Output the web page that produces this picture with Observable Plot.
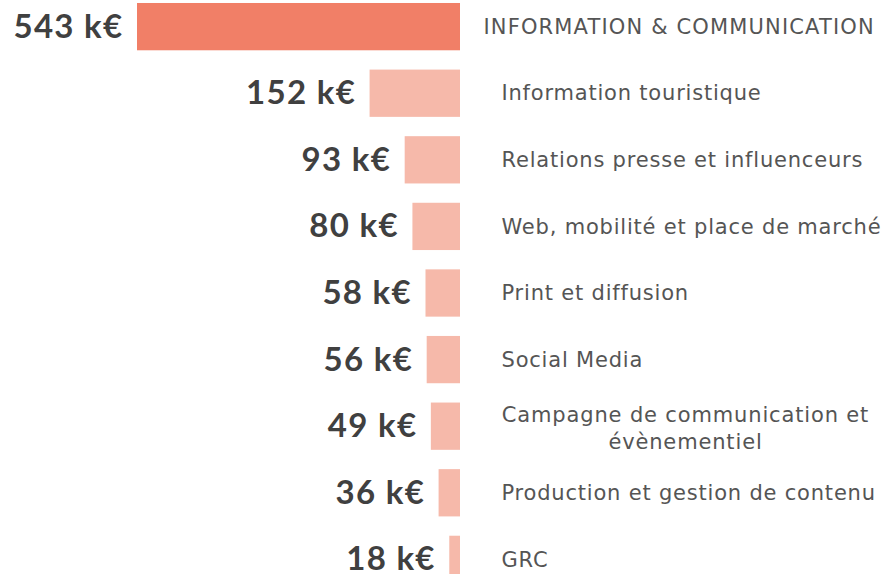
<!DOCTYPE html>
<html>
<head>
<meta charset="utf-8">
<script src="https://cdn.jsdelivr.net/npm/d3@7"></script>
<script src="https://cdn.jsdelivr.net/npm/@observablehq/plot@0.6"></script>
<style>
  html, body { margin: 0; padding: 0; background: #ffffff; overflow: hidden; }
  #chart { width: 881px; height: 574px; overflow: hidden; }
</style>
</head>
<body>
<div id="chart"></div>
<script>
const categories = [
  "INFORMATION & COMMUNICATION",
  "Information touristique",
  "Relations presse et influenceurs",
  "Web, mobilité et place de marché",
  "Print et diffusion",
  "Social Media",
  "Campagne de communication et\névènementiel",
  "Production et gestion de contenu",
  "GRC"
];
const values = [543, 152, 93, 80, 58, 56, 49, 36, 18];
const valueLabels = ["543 k€", "152 k€", "93 k€", "80 k€", "58 k€", "56 k€", "49 k€", "36 k€", "18 k€"];

const data = categories.map((c, i) => ({
  category: c,
  value: values[i],
  label: valueLabels[i],
  rank: i
}));

const FONT = "'DejaVu Sans', sans-serif";

const chart = Plot.plot({
  width: 881,
  height: 586,
  marginTop: 0,
  marginBottom: 0,
  marginLeft: 0,
  marginRight: 0,
  style: { fontFamily: FONT, background: "transparent" },
  x: { domain: [0, 543], range: [460, 137], axis: null },
  y: { domain: categories, paddingInner: 0.29, paddingOuter: 0.045, round: false, axis: null },
  marks: [
    Plot.barX(data, {
      x: "value",
      y: "category",
      fill: d => d.rank === 0 ? "#F17F67" : "#F6B9AA"
    }),
    Plot.text(data, {
      x: "value",
      y: "category",
      text: "label",
      textAnchor: "end",
      dx: -14,
      fontSize: 33,
      fontWeight: "bold",
      fontFamily: "Lato, sans-serif",
      fill: "#404040"
    }),
    Plot.text(data.filter(d => d.rank === 0), {
      x: 0,
      y: "category",
      text: "category",
      textAnchor: "start",
      dx: 23,
      fontSize: 21,
      fill: "#555555"
    }),
    Plot.text(data.filter(d => d.rank > 0 && !d.category.includes("\n")), {
      x: 0,
      y: "category",
      text: "category",
      textAnchor: "start",
      dx: 41,
      fontSize: 21,
      fill: "#555555"
    }),
    Plot.text(data.filter(d => d.category.includes("\n")), {
      x: 0,
      y: "category",
      text: "category",
      textAnchor: "middle",
      dx: 225,
      fontSize: 21,
      lineHeight: 1.3,
      fill: "#555555"
    })
  ]
});

const groups = d3.select(chart).selectAll('g[aria-label="text"]').nodes();
if (groups[0]) groups[0].setAttribute("letter-spacing", "1.3");
if (groups[1]) groups[1].setAttribute("letter-spacing", "1.15");
if (groups[2]) groups[2].setAttribute("letter-spacing", "0.8");
if (groups[3]) groups[3].setAttribute("letter-spacing", "0.85");

document.getElementById("chart").appendChild(chart);
</script>
</body>
</html>
